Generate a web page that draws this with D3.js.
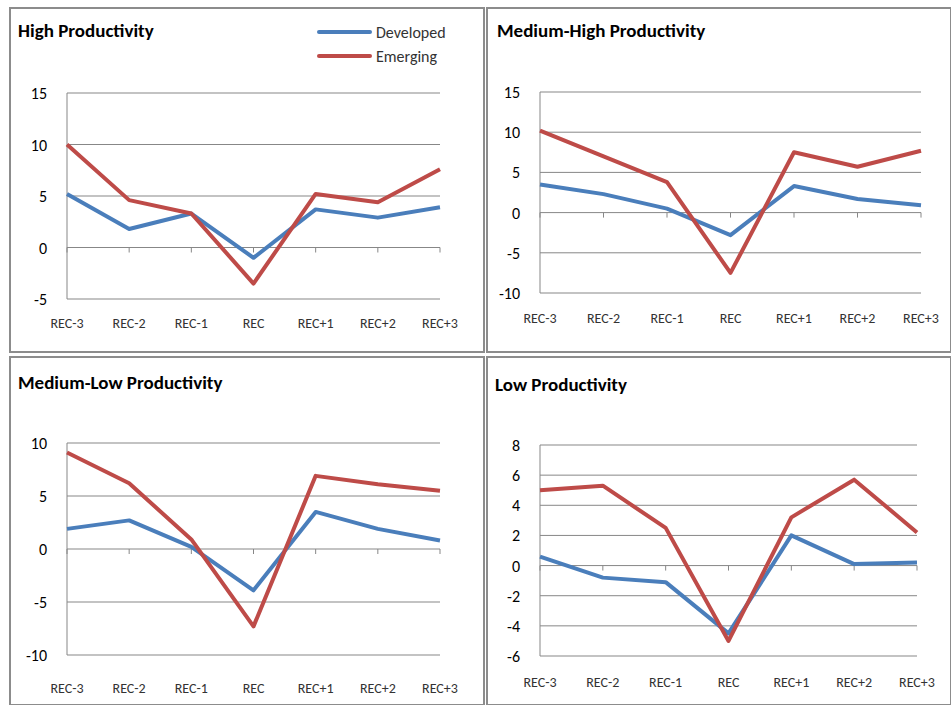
<!DOCTYPE html>
<html>
<head>
<meta charset="utf-8">
<script src="https://d3js.org/d3.v7.min.js"></script>
<style>body{margin:0;background:#fff}text{font-family:Calibri,Carlito,"Open Sans",sans-serif}</style>
</head>
<body>
<svg id="c" width="951" height="705"></svg>
<script>
const categories = ["REC-3","REC-2","REC-1","REC","REC+1","REC+2","REC+3"];
const titles = ["High Productivity","Medium-High Productivity","Medium-Low Productivity","Low Productivity"];
const developed = [
  [5.2,1.8,3.3,-1.0,3.7,2.9,3.9],
  [3.5,2.3,0.5,-2.8,3.3,1.7,0.9],
  [1.9,2.7,0.2,-3.9,3.5,1.9,0.8],
  [0.6,-0.8,-1.1,-4.5,2.0,0.1,0.2]
];
const emerging = [
  [10.0,4.6,3.3,-3.5,5.2,4.4,7.6],
  [10.2,7.0,3.8,-7.5,7.5,5.7,7.7],
  [9.1,6.2,0.9,-7.3,6.9,6.1,5.5],
  [5.0,5.3,2.5,-5.0,3.2,5.7,2.2]
];
const yTicks = [[-5,0,5,10,15],[-10,-5,0,5,10,15],[-10,-5,0,5,10],[-6,-4,-2,0,2,4,6,8]];

const panels = [
  {box:[10,8,474,344], x:[67,440], y:[299,93], lab:328, title:[18,37]},
  {box:[487,8,464,344], x:[540,921], y:[293,92], lab:323, title:[497,37]},
  {box:[10,357,474,348], x:[67,440], y:[655,443], lab:693, title:[18,389]},
  {box:[487,357,464,348], x:[540,917], y:[656,445], lab:687, title:[495,391]}
];
const blue = "#4a7ebb", red = "#be4b48";
const svg = d3.select("#c");

panels.forEach((p, i) => {
  const g = svg.append("g");
  g.append("rect").attr("x",p.box[0]).attr("y",p.box[1]).attr("width",p.box[2]).attr("height",p.box[3])
    .attr("fill","none").attr("stroke","#8c8c8c").attr("stroke-width",2);
  g.append("text").attr("x",p.title[0]).attr("y",p.title[1]).text(titles[i])
    .attr("font-size",19).attr("font-weight","bold").attr("fill","#000");

  const t = yTicks[i];
  const x = d3.scalePoint().domain(categories).range(p.x);
  const y = d3.scaleLinear().domain([t[0], t[t.length-1]]).range(p.y);

  g.selectAll(".grid").data(t).enter().append("line")
    .attr("x1",p.x[0]).attr("x2",p.x[1]).attr("y1",d=>y(d)).attr("y2",d=>y(d))
    .attr("stroke","#878787").attr("stroke-width",1);
  g.append("line").attr("x1",p.x[0]).attr("x2",p.x[0]).attr("y1",p.y[0]).attr("y2",p.y[1])
    .attr("stroke","#878787");
  g.selectAll(".yl").data(t).enter().append("text")
    .attr("x",p.x[0]-20).attr("y",d=>y(d)+6).attr("text-anchor","end")
    .attr("font-size",16).attr("fill","#000").text(d=>d);
  g.selectAll(".xt").data(categories).enter().append("line")
    .attr("x1",d=>x(d)).attr("x2",d=>x(d)).attr("y1",y(0)).attr("y2",y(0)+5)
    .attr("stroke","#878787");
  g.selectAll(".xl").data(categories).enter().append("text")
    .attr("x",d=>x(d)).attr("y",p.lab).attr("text-anchor","middle")
    .attr("font-size",14).attr("fill","#333").text(d=>d);

  const line = d3.line().x((d,j)=>x(categories[j])).y(d=>y(d));
  [[developed[i],blue],[emerging[i],red]].forEach(([s,c]) => {
    g.append("path").datum(s).attr("d",line).attr("fill","none")
      .attr("stroke",c).attr("stroke-width",4).attr("stroke-linejoin","round");
  });
});

[["Developed",blue,32],["Emerging",red,56]].forEach(([n,c,yy]) => {
  svg.append("line").attr("x1",319).attr("x2",370).attr("y1",yy).attr("y2",yy)
    .attr("stroke",c).attr("stroke-width",4).attr("stroke-linecap","round");
  svg.append("text").attr("x",376).attr("y",yy+6).attr("font-size",16).attr("fill","#333").text(n);
});
</script>
</body>
</html>
